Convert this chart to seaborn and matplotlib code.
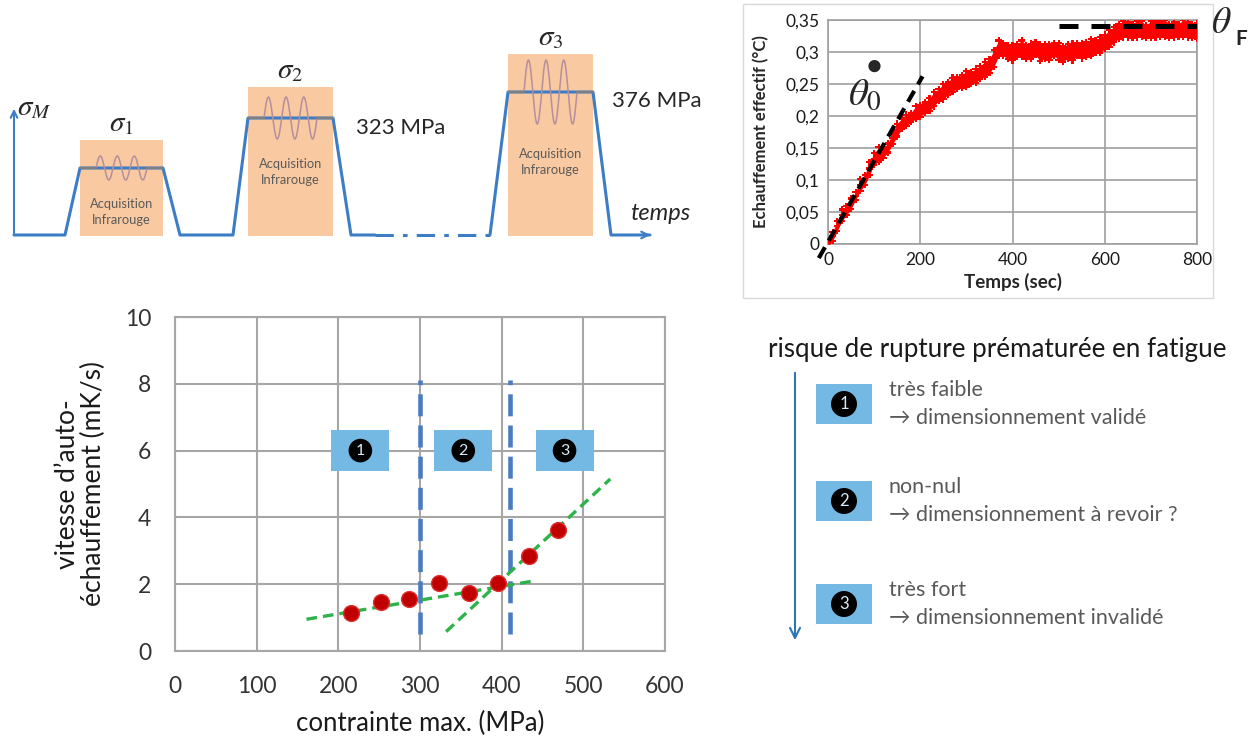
import numpy as np
import pandas as pd
import seaborn as sns
import matplotlib.pyplot as plt
from matplotlib.patches import Rectangle

# ---- graphe principal : vitesse d'auto-echauffement ----
contrainte = [215, 252, 287, 323, 360, 396, 433, 469]
vitesse = [1.13, 1.48, 1.55, 2.03, 1.73, 2.03, 2.83, 3.63]
droite1_x = [161, 440]
droite1_y = [0.95, 2.10]
droite2_x = [332, 533]
droite2_y = [0.58, 5.15]
seuils = [300, 410]
seuils_y = [0.5, 8.1]
zones_x = [227, 353, 477]
zones_num = ["1", "2", "3"]
xticks_main = [0, 100, 200, 300, 400, 500, 600]
yticks_main = [0, 2, 4, 6, 8, 10]

# ---- essai d'echauffement (encart) ----
temps = list(range(0, 801, 10))
echauff = [0.000, 0.012, 0.028, 0.045, 0.052, 0.063, 0.075, 0.092, 0.100, 0.118,
           0.133, 0.140, 0.143, 0.150, 0.165, 0.178, 0.188, 0.193, 0.198, 0.205,
           0.208, 0.213, 0.218, 0.226, 0.233, 0.238, 0.243, 0.249, 0.252, 0.254,
           0.258, 0.259, 0.263, 0.268, 0.273, 0.278, 0.290, 0.306, 0.304, 0.300,
           0.299, 0.302, 0.305, 0.300, 0.301, 0.305, 0.299, 0.301, 0.300, 0.304,
           0.301, 0.297, 0.301, 0.300, 0.304, 0.302, 0.304, 0.307, 0.309, 0.311,
           0.316, 0.321, 0.327, 0.332, 0.336, 0.335, 0.333, 0.336, 0.336, 0.332,
           0.335, 0.334, 0.336, 0.337, 0.333, 0.335, 0.334, 0.337, 0.335, 0.333,
           0.333]
ecart = [0.004, 0.007, 0.008, 0.009, 0.007, 0.008, 0.006, 0.009, 0.008, 0.010,
         0.009, 0.011, 0.008, 0.007, 0.009, 0.010, 0.008, 0.009, 0.007, 0.010,
         0.009, 0.008, 0.010, 0.011, 0.009, 0.012, 0.010, 0.011, 0.009, 0.010,
         0.012, 0.009, 0.011, 0.010, 0.012, 0.011, 0.013, 0.012, 0.010, 0.011,
         0.012, 0.010, 0.013, 0.011, 0.012, 0.010, 0.013, 0.011, 0.012, 0.010,
         0.013, 0.012, 0.011, 0.013, 0.010, 0.012, 0.011, 0.013, 0.010, 0.012,
         0.011, 0.013, 0.012, 0.011, 0.013, 0.012, 0.011, 0.013, 0.012, 0.010,
         0.013, 0.011, 0.012, 0.013, 0.011, 0.012, 0.010, 0.013, 0.012, 0.011,
         0.012]
tangente_x = [-20, 205]
tangente_y = [-0.022, 0.262]
plateau_x = [500, 800]
plateau_y = [0.34, 0.34]
xticks_ins = [0, 200, 400, 600, 800]
yticks_ins = [0, 0.05, 0.1, 0.15, 0.2, 0.25, 0.3, 0.35]
ylabels_ins = ["0", "0,05", "0,1", "0,15", "0,2", "0,25", "0,3", "0,35"]

# ---- schema du chargement (coordonnees en pixels) ----
trace1_x = [14, 65, 80, 163, 180, 233, 248, 333, 351, 375]
trace1_y = [235, 235, 168, 168, 235, 235, 118, 118, 235, 235]
trace2_x = [375, 490]
trace2_y = [235, 235]
trace3_x = [490, 508, 593, 611, 650]
trace3_y = [235, 92, 92, 235, 235]
paliers = [(80, 163, 140, 168, 12), (248, 333, 87, 118, 21), (508, 593, 54, 92, 32)]
sigmas = [r"$\sigma_1$", r"$\sigma_2$", r"$\sigma_3$"]
acq_y = [212, 172, 162]

# ---- legende de droite ----
niveaux = ["très faible", "non-nul", "très fort"]
consequences = ["→ dimensionnement validé", "→ dimensionnement à revoir ?",
                "→ dimensionnement invalidé"]
niveaux_y = [404, 501, 604]

sns.set_theme(style="white")
plt.rcParams["font.family"] = ["Lato", "DejaVu Sans"]
plt.rcParams["mathtext.fontset"] = "stix"

W, H = 1250, 739
fig = plt.figure(figsize=(12.5, 7.39), dpi=100)


def cadre(l, t, r, b):
    return [l / W, 1 - b / H, (r - l) / W, (b - t) / H]


fond = fig.add_axes([0, 0, 1, 1])
fond.set_xlim(0, W)
fond.set_ylim(H, 0)
fond.axis("off")

bleu = "#3c7dc6"
# schema en haut a gauche
fond.plot(trace1_x, trace1_y, color=bleu, lw=2.2, zorder=3)
fond.plot(trace2_x, trace2_y, color=bleu, lw=2.2, ls=(0, (6, 3, 1.5, 3)), zorder=3)
fond.plot(trace3_x, trace3_y, color=bleu, lw=2.2, zorder=3)
fond.annotate("", xy=(653, 235), xytext=(640, 235),
              arrowprops=dict(arrowstyle="->", color=bleu, lw=1.5))
fond.annotate("", xy=(14, 106), xytext=(14, 236),
              arrowprops=dict(arrowstyle="->", color=bleu, lw=1.5))
for (x0, x1, top, yp, amp), sig, ya in zip(paliers, sigmas, acq_y):
    fond.add_patch(Rectangle((x0, top), x1 - x0, 236 - top, fc="#f9c9a1", ec="none", zorder=1))
    xs = np.linspace(x0 + 16, x1 - 16, 200)
    fond.plot(xs, yp - amp * np.sin(2 * np.pi * 3 * (xs - xs[0]) / (xs[-1] - xs[0])),
              color="#b48f9c", lw=1.1, zorder=4)
    fond.plot([x0, x0 + 16], [yp, yp], color="#7f7f7f", lw=1.6, zorder=4)
    fond.plot([x1 - 16, x1], [yp, yp], color="#7f7f7f", lw=1.6, zorder=4)
    fond.text((x0 + x1) / 2, top - 16, sig, fontsize=21, ha="center", va="center")
    fond.text((x0 + x1) / 2, ya, "Acquisition\nInfrarouge", fontsize=9.3, ha="center",
              va="center", color="#5a5a5a", linespacing=1.35)
fond.text(17, 108, r"$\sigma_M$", fontsize=21, ha="left", va="center")
fond.text(356, 128, "323 MPa", fontsize=16, ha="left", va="center")
fond.text(612, 101, "376 MPa", fontsize=16, ha="left", va="center")
fond.text(630, 213, "temps", fontsize=17, style="italic", ha="left", va="center")

# cadre de l'encart
fond.add_patch(Rectangle((743, 4), 470, 294, fc="white", ec="#d9d9d9", lw=1, zorder=0))
fond.text(1211, 22, r"$\theta$", fontsize=27, ha="left", va="center")
fond.text(1235, 39, "F", fontsize=15, fontweight="bold", ha="left", va="center")

# legende de droite
fond.text(768, 350, "risque de rupture prématurée en fatigue", fontsize=18.7,
          ha="left", va="center", color="#1a1a1a")
fond.annotate("", xy=(795, 643), xytext=(795, 370),
              arrowprops=dict(arrowstyle="->", color="#2e75b6", lw=1.5, mutation_scale=18))
for num, niv, cons, yc in zip(zones_num, niveaux, consequences, niveaux_y):
    fond.add_patch(Rectangle((816, yc - 20), 56, 40, fc="#74b8e4", ec="none"))
    fond.text(844, yc, num, fontsize=12, ha="center", va="center", color="#d8ecf8",
              bbox=dict(boxstyle="circle,pad=0.3", fc="black", ec="none"))
    fond.text(889, yc - 14, niv, fontsize=15.5, ha="left", va="center", color="#595959")
    fond.text(889, yc + 14, cons, fontsize=15.5, ha="left", va="center", color="#595959")

# ---- graphe principal ----
ax = fig.add_axes(cadre(175, 317, 665, 651))
gris = "#a6a6a6"
ax.set_xlim(0, 600)
ax.set_ylim(0, 10)
ax.set_xticks(xticks_main)
ax.set_yticks(yticks_main)
ax.grid(True, color=gris, lw=1.5)
for s in ax.spines.values():
    s.set_color(gris)
    s.set_linewidth(1.5)
ax.tick_params(length=0, labelsize=16.5, labelcolor="#333333")
ax.tick_params(axis="y", pad=17)
ax.tick_params(axis="x", pad=18)
for xs in seuils:
    ax.plot([xs, xs], seuils_y, color="#4a7cc0", lw=3.3, ls=(0, (4.8, 2)), zorder=2)
for xz, num in zip(zones_x, zones_num):
    ax.add_patch(Rectangle((xz - 35.5, 5.39), 71, 1.23, fc="#74b8e4", ec="none", zorder=3))
    ax.text(xz, 6.0, num, fontsize=11.5, ha="center", va="center", color="#d8ecf8", zorder=4,
            bbox=dict(boxstyle="circle,pad=0.3", fc="black", ec="none"))
ax.plot(droite1_x, droite1_y, color="#2db34a", lw=2.4, ls=(0, (3.2, 1.8)), zorder=5)
ax.plot(droite2_x, droite2_y, color="#2db34a", lw=2.4, ls=(0, (3.2, 1.8)), zorder=5)
pts = pd.DataFrame({"contrainte": contrainte, "vitesse": vitesse})
sns.scatterplot(data=pts, x="contrainte", y="vitesse", ax=ax, s=130, color="#c00000",
                edgecolor="#e03030", linewidth=1, zorder=6)
ax.set_xlabel("contrainte max. (MPa)", fontsize=18.5, color="#1a1a1a", labelpad=10)
ax.set_ylabel("vitesse d’auto-\néchauffement (mK/s)", fontsize=19, color="#1a1a1a",
              linespacing=1.05)
ax.yaxis.set_label_coords(-0.14, 0.5)

# ---- encart ----
ins = fig.add_axes(cadre(828, 20, 1197, 244))
ins.set_xlim(0, 800)
ins.set_ylim(0, 0.35)
ins.set_xticks(xticks_ins)
ins.set_yticks(yticks_ins)
ins.set_yticklabels(ylabels_ins)
ins.grid(True, color="#a0a0a0", lw=1.2)
for s in ins.spines.values():
    s.set_color("#a0a0a0")
    s.set_linewidth(1.2)
ins.tick_params(length=0, labelsize=12.5, labelcolor="#1a1a1a", pad=6)
bas = np.array(echauff) - np.array(ecart)
haut = np.array(echauff) + np.array(ecart)
ins.fill_between(temps, bas, haut, color="#ff0000", lw=0, zorder=3)
essai = pd.DataFrame({"temps": temps * 3,
                      "val": list(echauff) + list(bas) + list(haut)})
sns.scatterplot(data=essai, x="temps", y="val", ax=ins, marker="P", s=22,
                color="#ff0000", edgecolor="none", zorder=3)
ins.plot(tangente_x, tangente_y, color="black", lw=3, ls=(0, (3, 1.8)), zorder=4, clip_on=False)
ins.plot(plateau_x, plateau_y, color="black", lw=3.6, ls=(0, (3.8, 2.6)), zorder=4)
ins.text(101, 0.278, "●", fontsize=18, ha="center", va="center")
ins.text(80, 0.235, r"$\theta_0$", fontsize=28, ha="center", va="center")
ins.set_xlabel("Temps (sec)", fontsize=13.5, fontweight="bold", labelpad=3)
ins.set_ylabel("Echauffement effectif (°C)", fontsize=12, fontweight="bold")
ins.yaxis.set_label_coords(-0.16, 0.5)

fig.savefig("out.png", dpi=100)
